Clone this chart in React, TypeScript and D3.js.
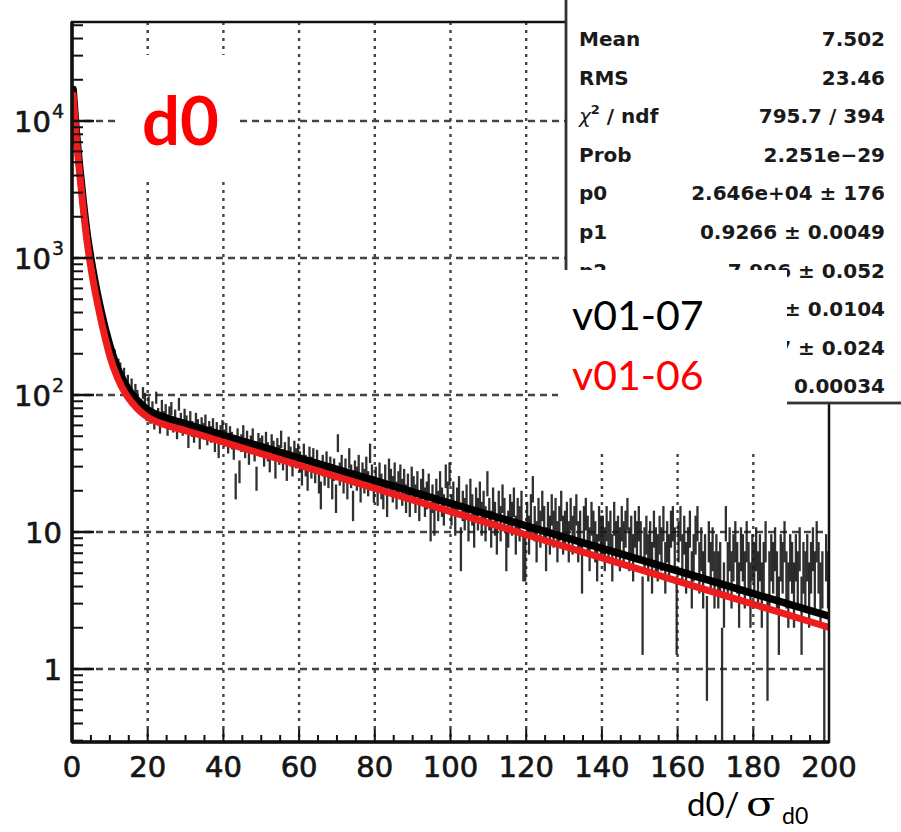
import React from "react";
import * as d3 from "d3";

// ---------- data ----------
const X_DOMAIN = [0, 200];
const Y_DOMAIN = [0.2932, 52800];
const BIN_WIDTH = 0.5;

// histogram contents, 400 bins of width 0.5 from 0 to 200
const counts = [
  16900, 11600, 8200, 5900, 4250, 3100, 2320, 1760, 1350, 1090, 910, 765, 640, 545, 472, 410, 362, 318, 279, 250,
  232, 196, 201, 165, 171, 160, 132, 146, 118, 129, 104, 121, 93, 110, 99, 82, 84, 104, 94, 73,
  88, 70, 81, 64, 96, 72, 60, 83, 68, 77, 58, 74, 80, 61, 70, 55, 86, 66, 58, 71,
  63, 48, 68, 57, 52, 66, 59, 47, 61, 55, 64, 50, 57, 52, 60, 45, 56, 41, 53, 58,
  49, 55, 44, 52, 47, 40, 22, 50, 28, 45, 53, 41, 48, 37, 44, 50, 39, 25, 46, 42,
  44, 36, 47, 39, 33, 45, 40, 30, 42, 37, 48, 34, 39, 29, 43, 36, 31, 40, 35, 38,
  33, 27, 38, 31, 25, 36, 30, 35, 28, 34, 24, 19, 31, 27, 33, 26, 30, 22, 29, 18,
  45, 27, 31, 24, 29, 22, 35, 26, 16, 28, 25, 31, 21, 27, 24, 30, 23, 38, 26, 21,
  25, 20, 27, 22, 19, 26, 17, 29, 24, 21, 27, 19, 23, 26, 20, 24, 18, 22, 17, 25,
  21, 18, 23, 16, 20, 24, 17, 19, 22, 12, 18, 13, 20, 16, 23, 17, 15, 26, 19, 27,
  15, 19, 13, 17, 21, 8, 16, 14, 18, 12, 20, 15, 11, 17, 14, 19, 13, 16, 12, 23,
  14, 11, 17, 13, 10, 16, 12, 18, 14, 8, 11, 15, 13, 17, 10, 14, 12, 16, 7, 7,
  13, 10, 15, 21, 12, 9, 14, 11, 16, 12, 8, 13, 10, 15, 11, 14, 9, 12, 16, 10,
  11, 13, 9, 14, 10, 12, 15, 9, 11, 6, 12, 14, 10, 8, 13, 11, 9, 7, 12, 10,
  10, 8, 12, 9, 11, 7, 13, 9, 10, 8, 12, 9, 11, 14, 8, 10, 7, 11, 9, 12,
  9, 3, 8, 10, 7, 9, 6, 11, 8, 7, 10, 8, 12, 6, 9, 7, 11, 12, 8, 3,
  9, 12, 7, 10, 6, 8, 11, 5, 7, 10, 12, 6, 8, 5, 7, 2, 9, 6, 8, 5,
  7, 5, 6, 1, 4, 12, 6, 8, 5, 7, 9, 6, 4, 8, 7, 5, 9, 6, 4, 7,
  6, 8, 5, 7, 4, 6, 9, 2, 5, 7, 6, 8, 5, 3, 7, 6, 9, 5, 4, 7,
  6, 4, 7, 5, 8, 3, 6, 5, 7, 4, 6, 8, 5, 9, 6, 4, 5, 1, 7, 5,
];

// fit curves
const fitX = [0.3, 1, 2, 3, 4, 5, 6, 7, 8, 9, 10, 12, 14, 16, 18, 20, 25, 30, 40, 60, 80, 100, 120, 140, 160, 180, 200];
const fitBlack = [17000, 9300, 4700, 2550, 1500, 990, 690, 500, 375, 290, 230, 158, 121, 100, 87, 78, 68, 61.5, 50.8, 34.7, 23.7, 16.2, 11.1, 7.6, 5.2, 3.55, 2.43];
const fitRed = [15500, 8500, 4200, 2250, 1300, 850, 590, 430, 320, 245, 192, 134, 104, 87, 76, 69, 60, 55, 45.3, 30.7, 20.8, 14.1, 9.55, 6.47, 4.38, 2.97, 2.01];

const xTicks = [0, 20, 40, 60, 80, 100, 120, 140, 160, 180, 200];
const xTickLabels = ["0", "20", "40", "60", "80", "100", "120", "140", "160", "180", "200"];
const yDecades = [1, 10, 100, 1000, 10000];
const yLabelBase = ["1", "10", "10", "10", "10"];
const yLabelExp = ["", "", "2", "3", "4"];

// stats box rows; rows 7-9 only show the part not covered by the legend box
const statLabels = ["Mean", "RMS", "χ", "Prob", "p0", "p1", "p2", "", "", ""];
const statValues = [
  "7.502",
  "23.46",
  "795.7 / 394",
  "2.251e\u221229",
  "2.646e+04 \u00b1 176",
  "0.9266 \u00b1 0.0049",
  "7.996 \u00b1 0.052",
  "\u00b1 0.0104",
  "7 \u00b1 0.024",
  "0.00034",
];

const legendLabels = ["v01-07", "v01-06"];
const legendColors = ["#000000", "#ff0000"];

// ---------- layout ----------
const W = 901;
const H = 832;
const PL = 72;
const PR = 829;
const PT = 22;
const PB = 742;

const TICK_FONT = "'DejaVu Sans', sans-serif";

export default function App() {
  const x = d3.scaleLinear().domain(X_DOMAIN).range([PL, PR]);
  const y = d3.scaleLog().domain(Y_DOMAIN).range([PB, PT]);

  const line = d3
    .line<number>()
    .x((_, i) => x(fitX[i]))
    .y((d) => y(d))
    .curve(d3.curveMonotoneX);

  const xMinor = d3.range(X_DOMAIN[0], X_DOMAIN[1] + 0.001, 5);
  const yMinor: number[] = [];
  [0.1, 1, 10, 100, 1000, 10000].forEach((dec) => {
    for (let m = 2; m <= 9; m++) {
      const v = m * dec;
      if (v > Y_DOMAIN[0] && v < Y_DOMAIN[1]) yMinor.push(v);
    }
  });

  const bars = counts.map((v, i) => {
    const c = (i + 0.5) * BIN_WIDTH;
    const e = Math.sqrt(v);
    const lo = v - e;
    return {
      x: x(c),
      y1: lo > Y_DOMAIN[0] ? y(lo) : PB + 2,
      y2: y(v + e),
    };
  });

  return (
    <svg
      width={W}
      height={H}
      viewBox={`0 0 ${W} ${H}`}
      style={{ position: "absolute", left: 0, top: 0, background: "#fff" }}
    >
      <defs>
        <clipPath id="plotclip">
          <rect x={PL} y={PT} width={PR - PL} height={PB - PT} />
        </clipPath>
      </defs>
      <rect x={0} y={0} width={W} height={H} fill="#fff" />

      {/* grid */}
      <g stroke="#444" strokeWidth={2.4} fill="none">
        {yDecades.map((d) => (
          <line key={"gy" + d} x1={PL} x2={PR} y1={y(d)} y2={y(d)} strokeDasharray="7,5" />
        ))}
        {xTicks
          .filter((t) => t > X_DOMAIN[0] && t < X_DOMAIN[1])
          .map((t) => (
            <line key={"gx" + t} x1={x(t)} x2={x(t)} y1={PT} y2={PB} strokeDasharray="3,5" />
          ))}
      </g>

      {/* histogram error bars */}
      <g clipPath="url(#plotclip)" stroke="#1a1a1a" strokeWidth={2.3} strokeOpacity={0.9}>
        {bars.map((b, i) => (
          <line key={"b" + i} x1={b.x} x2={b.x} y1={b.y1} y2={b.y2} />
        ))}
      </g>

      {/* fits */}
      <g clipPath="url(#plotclip)" fill="none" strokeLinecap="round">
        <path d={line(fitBlack) || ""} stroke="#000" strokeWidth={7.5} />
        <path d={line(fitRed) || ""} stroke="#ee1c1c" strokeWidth={7} />
      </g>

      {/* frame */}
      <g stroke="#111" fill="none">
        <rect x={PL} y={PT} width={PR - PL} height={PB - PT} strokeWidth={2.5} />
        <line x1={PL} x2={PR} y1={PB} y2={PB} strokeWidth={3.5} />
        <line x1={PL} x2={PL} y1={PT} y2={PB} strokeWidth={3.5} />
        {xMinor.map((t) => {
          const major = xTicks.includes(t);
          return <line key={"xt" + t} x1={x(t)} x2={x(t)} y1={PB} y2={PB - (major ? 13 : 7)} strokeWidth={2} />;
        })}
        {yDecades.map((d) => (
          <line key={"yt" + d} x1={PL} x2={PL + 22} y1={y(d)} y2={y(d)} strokeWidth={2.5} />
        ))}
        {yMinor.map((v, i) => (
          <line key={"ym" + i} x1={PL} x2={PL + 11} y1={y(v)} y2={y(v)} strokeWidth={2} />
        ))}
      </g>

      {/* tick labels */}
      <g fontFamily={TICK_FONT} fontSize={29} fill="#151515" stroke="#151515" strokeWidth={0.7}>
        {xTicks.map((t, i) => (
          <text key={"xl" + t} x={x(t)} y={777} textAnchor="middle">
            {xTickLabels[i]}
          </text>
        ))}
        {yDecades.map((d, i) =>
          yLabelExp[i] === "" ? (
            <text key={"yl" + d} x={62} y={y(d) + 11} textAnchor="end">
              {yLabelBase[i]}
            </text>
          ) : (
            <g key={"yl" + d}>
              <text x={51} y={y(d) + 11} textAnchor="end">
                {yLabelBase[i]}
              </text>
              <text x={52} y={y(d) - 3} fontSize={19} strokeWidth={0.4}>
                {yLabelExp[i]}
              </text>
            </g>
          )
        )}
      </g>

      {/* stats box */}
      <g>
        <rect x={566} y={-6} width={W - 566 + 10} height={409} fill="#fff" stroke="#333" strokeWidth={2.8} />
        <g fontFamily={TICK_FONT} fontWeight="bold" fontSize={20} fill="#1a1a1a">
          {statLabels.map((lab, i) => {
            const yy = 46 + i * 38.6;
            return (
              <g key={"st" + i}>
                {lab === "χ" ? (
                  <text x={579} y={yy} fontWeight="normal">
                    <tspan fontStyle="italic">χ</tspan>
                    <tspan dy={-9} fontSize={13} fontWeight="bold">2</tspan>
                    <tspan dy={9} fontWeight="bold">{"  / ndf"}</tspan>
                  </text>
                ) : lab !== "" ? (
                  <text x={579} y={yy}>
                    {lab}
                  </text>
                ) : null}
                <text x={885} y={yy} textAnchor="end">
                  {statValues[i]}
                </text>
              </g>
            );
          })}
        </g>
      </g>

      {/* legend box */}
      <rect x={558} y={270} width={229} height={180} fill="#fff" />
      <g fontFamily="Lato, 'Open Sans', sans-serif" fontSize={41}>
        {legendLabels.map((l, i) => (
          <text key={l} x={572} y={330 + i * 60} fill={legendColors[i]}>
            {l}
          </text>
        ))}
      </g>

      {/* d0 label */}
      <rect x={120} y={55} width={118} height={122} fill="#fff" />
      <text x={142} y={145} fontFamily="Lato, sans-serif" fontWeight="bold" fontSize={67} fill="#ff0000">
        d0
      </text>

      {/* axis title */}
      <g fontFamily="Lato, sans-serif" fill="#000">
        <text x={687} y={816} fontSize={33}>
          d0/
        </text>
        <text transform="translate(746,816) scale(1.3,1)" fontFamily="'DejaVu Serif', serif" fontSize={33}>
          σ
        </text>
        <text x={782} y={824} fontSize={23}>
          d0
        </text>
      </g>
    </svg>
  );
}
